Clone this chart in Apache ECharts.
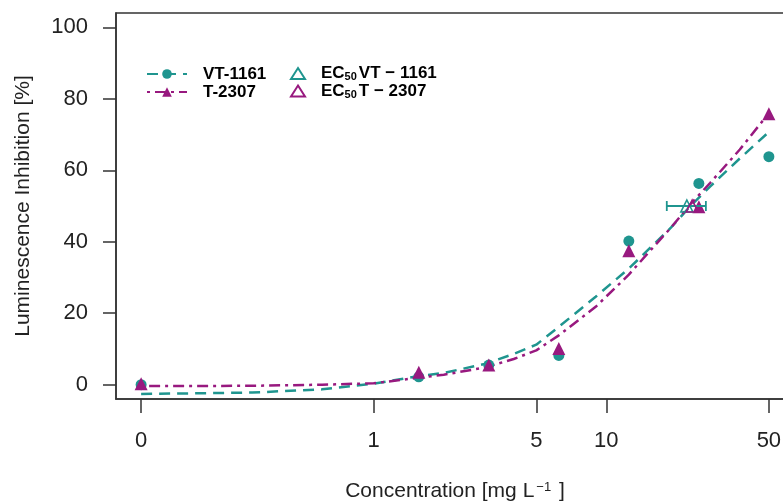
<html>
<head>
    <meta http-equiv="Content-Type" content="text/html; charset=utf-8">
    <script src="https://cdn.jsdelivr.net/npm/echarts@6/dist/echarts.min.js"></script>
    <style>
        * {
            margin: 0;
            padding: 0;
        }

        #main {
            width: 783px;
            height: 501px;
            background: #fff;
        }
    </style>
</head>
<body>
<div id="main"></div>
<script type="text/javascript">
    // measured points (concentration in mg/L, inhibition in %)
    let concPts = [0, 1.5625, 3.125, 6.25, 12.5, 25, 50];
    let vtPts = [0, 2.2, 5.5, 8.2, 40.2, 56.3, 63.8];
    let tPts = [0.3, 3.5, 5.5, 10.1, 37.5, 49.8, 75.8];

    // fitted curves
    let curveConc = [0, 0.3, 0.6, 1, 1.5, 2, 3, 4, 5, 6.25, 9, 12.5, 15, 19, 23, 28, 37.5, 50];
    let vtFit = [-2.6, -2.2, -1.3, 0.3, 2.2, 3.3, 5.8, 8.6, 11.2, 16.2, 24.6, 32.5, 37.5, 44, 50, 55.5, 63.3, 70.7];
    let tFit = [-0.4, -0.3, 0, 0.4, 1.8, 2.8, 4.8, 7.2, 9.6, 13.8, 21.8, 30.8, 36.6, 44, 50.5, 56.5, 65.8, 76];

    // EC50 estimates
    let ec50Vt = 22.2;
    let ec50T = 23.4;
    let ec50Level = 50;
    let ec50VtCI = [18.2, 26.8];

    let xTickConc = [0, 1, 5, 10, 50];
    let xTickLabels = ['0', '1', '5', '10', '50'];
    let yTicks = [0, 20, 40, 60, 80, 100];

    let teal = '#1f958f';
    let magenta = '#98197f';

    // broken log axis: 0 sits one decade below 1
    function pos(c) {
        return c <= 0 ? -1 : Math.log10(c);
    }

    function pairs(xs, ys) {
        return xs.map(function (c, i) {
            return [pos(c), ys[i]];
        });
    }

    let xTickPos = xTickConc.map(pos);

    let myChart = echarts.init(document.getElementById('main'), null, {renderer: 'canvas'});

    let boldText = {fontFamily: 'Liberation Sans', fontSize: 17, fontWeight: 'bold', color: '#000', lineHeight: 18};

    let option = {
        animation: false,
        backgroundColor: '#fff',
        textStyle: {fontFamily: 'Liberation Sans', color: '#111'},
        grid: {
            left: 116,
            top: 13,
            width: 678,
            height: 386,
            outerBoundsMode: 'none',
            containLabel: false,
            show: true,
            borderColor: '#333',
            borderWidth: 1.5
        },
        legend: [
            {
                orient: 'vertical',
                left: 146,
                top: 65,
                padding: 0,
                itemWidth: 40,
                itemHeight: 12,
                itemGap: 0,
                data: ['VT-1161', 'T-2307'],
                textStyle: Object.assign({padding: [0, 0, 0, 11]}, boldText)
            },
            {
                orient: 'vertical',
                left: 290,
                top: 65,
                padding: 0,
                itemWidth: 14,
                itemHeight: 11,
                itemGap: 0,
                data: ['EC50 VT-1161', 'EC50 T-2307'],
                formatter: function (name) {
                    return '{b|EC}{s|50}{b|' + name.slice(5).replace('-', ' \u2212 ') + '}';
                },
                textStyle: {
                    padding: [0, 0, 0, 11],
                    rich: {
                        b: boldText,
                        s: {fontFamily: 'Liberation Sans', fontSize: 11, fontWeight: 'bold', color: '#000',
                            verticalAlign: 'bottom', lineHeight: 12, padding: [0, 2, 0, 0]}
                    }
                }
            }
        ],
        xAxis: {
            type: 'value',
            min: -1.108,
            max: 1.807,
            name: 'Concentration [mg L{sup|\u22121} ]',
            nameLocation: 'middle',
            nameGap: 82,
            nameTextStyle: {
                fontFamily: 'Liberation Sans',
                fontSize: 21,
                color: '#222',
                rich: {
                    sup: {fontFamily: 'Liberation Sans', fontSize: 13, color: '#222', verticalAlign: 'top', lineHeight: 13, padding: [0, 2, 12, 2]}
                }
            },
            splitLine: {show: false},
            axisLine: {show: true, onZero: false, lineStyle: {color: '#333', width: 1.5}},
            axisTick: {show: true, length: 14, customValues: xTickPos, lineStyle: {color: '#333', width: 1.5}},
            axisLabel: {
                customValues: xTickPos,
                margin: 31,
                fontSize: 22,
                color: '#222',
                formatter: function (v) {
                    let i = xTickPos.findIndex(function (p) {
                        return Math.abs(p - v) < 1e-6;
                    });
                    return i >= 0 ? xTickLabels[i] : '';
                }
            }
        },
        yAxis: {
            type: 'value',
            min: -4,
            max: 104,
            name: 'Luminescence Inhibition [%]',
            nameLocation: 'middle',
            nameGap: 82,
            nameTextStyle: {fontFamily: 'Liberation Sans', fontSize: 21, color: '#222'},
            splitLine: {show: false},
            axisLine: {show: true, onZero: false, lineStyle: {color: '#333', width: 1.5}},
            axisTick: {show: true, length: 13, customValues: yTicks, lineStyle: {color: '#333', width: 1.5}},
            axisLabel: {customValues: yTicks, margin: 28, fontSize: 22, color: '#222'}
        },
        series: [
            {
                name: 'VT-1161',
                type: 'line',
                data: pairs(curveConc, vtFit),
                showSymbol: false,
                symbol: 'circle',
                symbolSize: 8,
                itemStyle: {color: teal},
                lineStyle: {color: teal, width: 2.5, type: [11, 7]},
                z: 3
            },
            {
                name: 'T-2307',
                type: 'line',
                data: pairs(curveConc, tFit),
                showSymbol: false,
                symbol: 'triangle',
                symbolSize: 9,
                itemStyle: {color: magenta},
                lineStyle: {color: magenta, width: 2.5, type: [3, 5, 11, 5]},
                z: 3
            },
            {
                name: 'VT-1161 points',
                type: 'scatter',
                data: pairs(concPts, vtPts),
                symbol: 'circle',
                symbolSize: 11,
                itemStyle: {color: teal, opacity: 1},
                z: 4
            },
            {
                name: 'T-2307 points',
                type: 'scatter',
                data: pairs(concPts, tPts),
                symbol: 'triangle',
                symbolSize: 13,
                itemStyle: {color: magenta, opacity: 1},
                z: 5
            },
            {
                name: 'VT-1161 CI',
                type: 'custom',
                data: [[pos(ec50VtCI[0]), pos(ec50VtCI[1]), ec50Level]],
                renderItem: function (params, api) {
                    let lo = api.coord([api.value(0), api.value(2)]);
                    let hi = api.coord([api.value(1), api.value(2)]);
                    let st = {stroke: teal, lineWidth: 1.8};
                    return {
                        type: 'group',
                        children: [
                            {type: 'line', shape: {x1: lo[0], y1: lo[1], x2: hi[0], y2: hi[1]}, style: st},
                            {type: 'line', shape: {x1: lo[0], y1: lo[1] - 5, x2: lo[0], y2: lo[1] + 5}, style: st},
                            {type: 'line', shape: {x1: hi[0], y1: hi[1] - 5, x2: hi[0], y2: hi[1] + 5}, style: st}
                        ]
                    };
                },
                z: 6
            },
            {
                name: 'EC50 VT-1161',
                type: 'scatter',
                data: [[pos(ec50Vt), ec50Level]],
                symbol: 'triangle',
                symbolSize: 12,
                itemStyle: {color: 'rgba(255,255,255,0)', borderColor: teal, borderWidth: 1.6, opacity: 1},
                z: 7
            },
            {
                name: 'EC50 T-2307',
                type: 'scatter',
                data: [[pos(ec50T), ec50Level]],
                symbol: 'triangle',
                symbolSize: 12,
                itemStyle: {color: 'rgba(255,255,255,0)', borderColor: magenta, borderWidth: 1.6, opacity: 1},
                z: 7
            }
        ]
    };

    myChart.setOption(option);
</script>
</body>
</html>
